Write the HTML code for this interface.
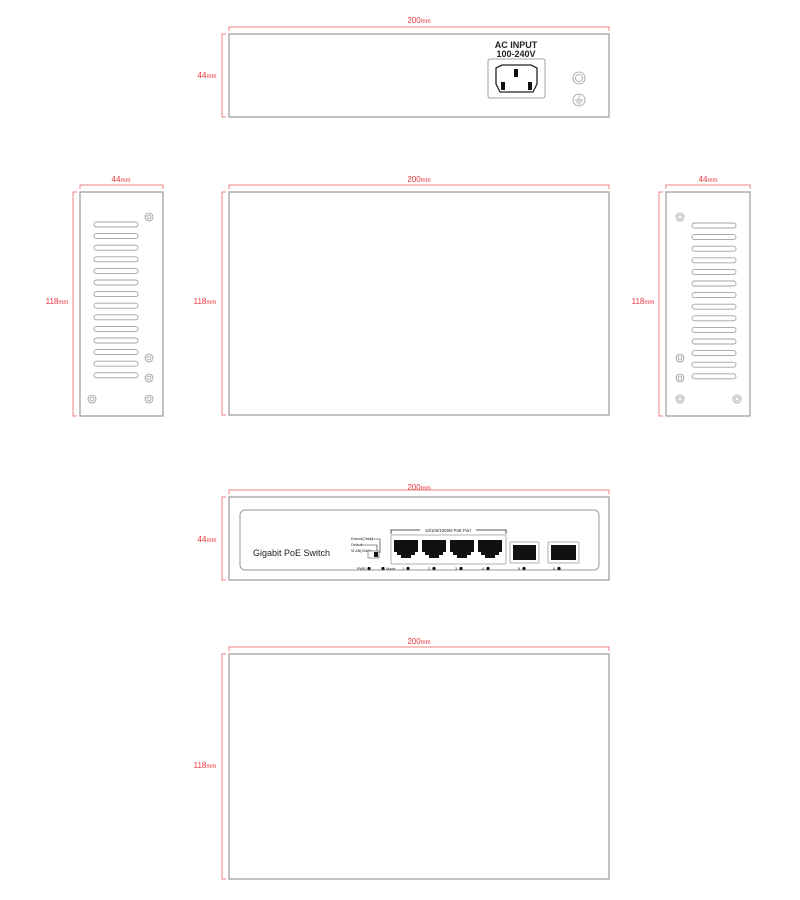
<!DOCTYPE html>
<html><head><meta charset="utf-8"><style>
html,body{margin:0;padding:0;background:#fff;}
svg{display:block;font-family:"Liberation Sans",sans-serif;}
.d{stroke:#f08080;stroke-width:1;fill:none}
.dt{fill:#e8333a;font-size:8px}
.dt tspan{font-size:6px}
.b{fill:#fff;stroke:#9a9a9a;stroke-width:1.2}
.s{fill:#fff;stroke:#a0a0a0;stroke-width:0.9}
.sc{fill:#fff;stroke:#999;stroke-width:0.8}
</style></head><body>
<svg width="800" height="900" viewBox="0 0 800 900">
<defs>
<g id="screw"><circle r="4" class="sc"/><circle r="2" class="sc"/></g>
<g id="slots">
<rect x="0" y="0" width="44" height="5" rx="2.5" class="s"/>
<rect x="0" y="11.6" width="44" height="5" rx="2.5" class="s"/>
<rect x="0" y="23.2" width="44" height="5" rx="2.5" class="s"/>
<rect x="0" y="34.8" width="44" height="5" rx="2.5" class="s"/>
<rect x="0" y="46.4" width="44" height="5" rx="2.5" class="s"/>
<rect x="0" y="58" width="44" height="5" rx="2.5" class="s"/>
<rect x="0" y="69.6" width="44" height="5" rx="2.5" class="s"/>
<rect x="0" y="81.2" width="44" height="5" rx="2.5" class="s"/>
<rect x="0" y="92.8" width="44" height="5" rx="2.5" class="s"/>
<rect x="0" y="104.4" width="44" height="5" rx="2.5" class="s"/>
<rect x="0" y="116" width="44" height="5" rx="2.5" class="s"/>
<rect x="0" y="127.6" width="44" height="5" rx="2.5" class="s"/>
<rect x="0" y="139.2" width="44" height="5" rx="2.5" class="s"/>
<rect x="0" y="150.8" width="44" height="5" rx="2.5" class="s"/>
</g>
<g id="rj"><path d="M0 0H24V12H21V15H17V18H7V15H3V12H0Z" fill="#111"/></g>
</defs>

<!-- TOP: rear view -->
<path class="d" d="M229 31V27H609V31"/>
<text class="dt" x="419" y="23" text-anchor="middle">200<tspan>mm</tspan></text>
<path class="d" d="M226 34H222V117H226"/>
<text class="dt" x="207" y="78" text-anchor="middle">44<tspan>mm</tspan></text>
<rect x="229" y="34" width="380" height="83" class="b"/>
<text x="516" y="48" font-size="9" font-weight="bold" text-anchor="middle" fill="#222">AC INPUT</text>
<text x="516" y="57" font-size="9" font-weight="bold" text-anchor="middle" fill="#222">100-240V</text>
<rect x="488" y="59" width="57" height="39" rx="2" fill="#fff" stroke="#888" stroke-width="0.8"/>
<path d="M496 68L502 65H531L537 68V84L533 92H500L496 84Z" fill="#fff" stroke="#222" stroke-width="1.3"/>
<rect x="514" y="69" width="4" height="8" fill="#111"/>
<rect x="501" y="82" width="4" height="8" fill="#111"/>
<rect x="528" y="82" width="4" height="8" fill="#111"/>
<circle cx="579" cy="78" r="6" class="sc"/><circle cx="579" cy="78" r="3.5" class="sc"/>
<circle cx="579" cy="100" r="6" class="sc"/><path d="M579 95V100M575 100H583M576 102H582M577.5 104H580.5" stroke="#999" stroke-width="0.7"/>

<!-- MIDDLE row -->
<path class="d" d="M80 189V185H163V189"/>
<text class="dt" x="121" y="182" text-anchor="middle">44<tspan>mm</tspan></text>
<path class="d" d="M77 192H73V416H77"/>
<text class="dt" x="57" y="304" text-anchor="middle">118<tspan>mm</tspan></text>
<rect x="80" y="192" width="83" height="224" class="b"/>
<use href="#slots" x="94" y="222"/>
<use href="#screw" x="149" y="217"/><use href="#screw" x="149" y="358"/><use href="#screw" x="149" y="378"/><use href="#screw" x="149" y="399"/><use href="#screw" x="92" y="399"/>

<path class="d" d="M229 189V185H609V189"/>
<text class="dt" x="419" y="182" text-anchor="middle">200<tspan>mm</tspan></text>
<path class="d" d="M226 192H222V415H226"/>
<text class="dt" x="205" y="304" text-anchor="middle">118<tspan>mm</tspan></text>
<rect x="229" y="192" width="380" height="223" class="b"/>

<path class="d" d="M666 189V185H750V189"/>
<text class="dt" x="708" y="182" text-anchor="middle">44<tspan>mm</tspan></text>
<path class="d" d="M663 192H659V416H663"/>
<text class="dt" x="643" y="304" text-anchor="middle">118<tspan>mm</tspan></text>
<rect x="666" y="192" width="84" height="224" class="b"/>
<use href="#slots" x="692" y="223"/>
<use href="#screw" x="680" y="217"/><use href="#screw" x="680" y="358"/><use href="#screw" x="680" y="378"/><use href="#screw" x="680" y="399"/><use href="#screw" x="737" y="399"/>

<!-- FRONT -->
<path class="d" d="M229 494V490H609V494"/>
<text class="dt" x="419" y="490" text-anchor="middle">200<tspan>mm</tspan></text>
<path class="d" d="M226 497H222V580H226"/>
<text class="dt" x="207" y="542" text-anchor="middle">44<tspan>mm</tspan></text>
<rect x="229" y="497" width="380" height="83" class="b"/>
<rect x="240" y="510" width="359" height="60" rx="5" fill="#fff" stroke="#999" stroke-width="1"/>
<text x="253" y="556" font-size="9" fill="#222">Gigabit PoE Switch</text>
<text x="351" y="540" font-size="3.6" fill="#222">Extend(CH-1)</text>
<text x="351" y="546" font-size="3.6" fill="#222">Default</text>
<text x="351" y="552" font-size="3.6" fill="#222">VLAN(CH-1)</text>
<path d="M366 539H380V553M362 545H377V553M365 551H373V553" stroke="#222" stroke-width="0.6" fill="none"/>
<rect x="368" y="551" width="11" height="7" fill="#fff" stroke="#555" stroke-width="0.6"/>
<rect x="374" y="552" width="4" height="5" fill="#111"/>
<text x="357" y="570" font-size="3.8" fill="#222">PWR</text><circle cx="369" cy="568.5" r="1.6" fill="#111"/>
<circle cx="383" cy="568.5" r="1.6" fill="#111"/><text x="386" y="570" font-size="3.8" fill="#222">Mode</text>
<path d="M391 534V530H506V534" stroke="#222" stroke-width="0.8" fill="none"/>
<rect x="420" y="527" width="56" height="6" fill="#fff"/>
<text x="448" y="532" font-size="4.3" text-anchor="middle" fill="#222">10/100/1000M PoE Port</text>
<rect x="391" y="535" width="115" height="29" rx="1" fill="#fff" stroke="#999" stroke-width="0.8"/>
<use href="#rj" x="394" y="540"/><use href="#rj" x="422" y="540"/><use href="#rj" x="450" y="540"/><use href="#rj" x="478" y="540"/>
<rect x="510" y="542" width="29" height="21" rx="1" fill="#fff" stroke="#999" stroke-width="0.8"/>
<rect x="513" y="545" width="23" height="15" fill="#111"/>
<rect x="548" y="542" width="31" height="21" rx="1" fill="#fff" stroke="#999" stroke-width="0.8"/>
<rect x="551" y="545" width="25" height="15" fill="#111"/>
<g font-size="3.8" fill="#222">
<text x="402" y="570">1</text><circle cx="408" cy="568.5" r="1.6" fill="#111"/>
<text x="428" y="570">2</text><circle cx="434" cy="568.5" r="1.6" fill="#111"/>
<text x="455" y="570">3</text><circle cx="461" cy="568.5" r="1.6" fill="#111"/>
<text x="482" y="570">4</text><circle cx="488" cy="568.5" r="1.6" fill="#111"/>
<text x="518" y="570">5</text><circle cx="524" cy="568.5" r="1.6" fill="#111"/>
<text x="553" y="570">6</text><circle cx="559" cy="568.5" r="1.6" fill="#111"/>
</g>

<!-- BOTTOM -->
<path class="d" d="M229 651V647H609V651"/>
<text class="dt" x="419" y="644" text-anchor="middle">200<tspan>mm</tspan></text>
<path class="d" d="M226 654H222V879H226"/>
<text class="dt" x="205" y="768" text-anchor="middle">118<tspan>mm</tspan></text>
<rect x="229" y="654" width="380" height="225" class="b"/>
</svg>
</body></html>
